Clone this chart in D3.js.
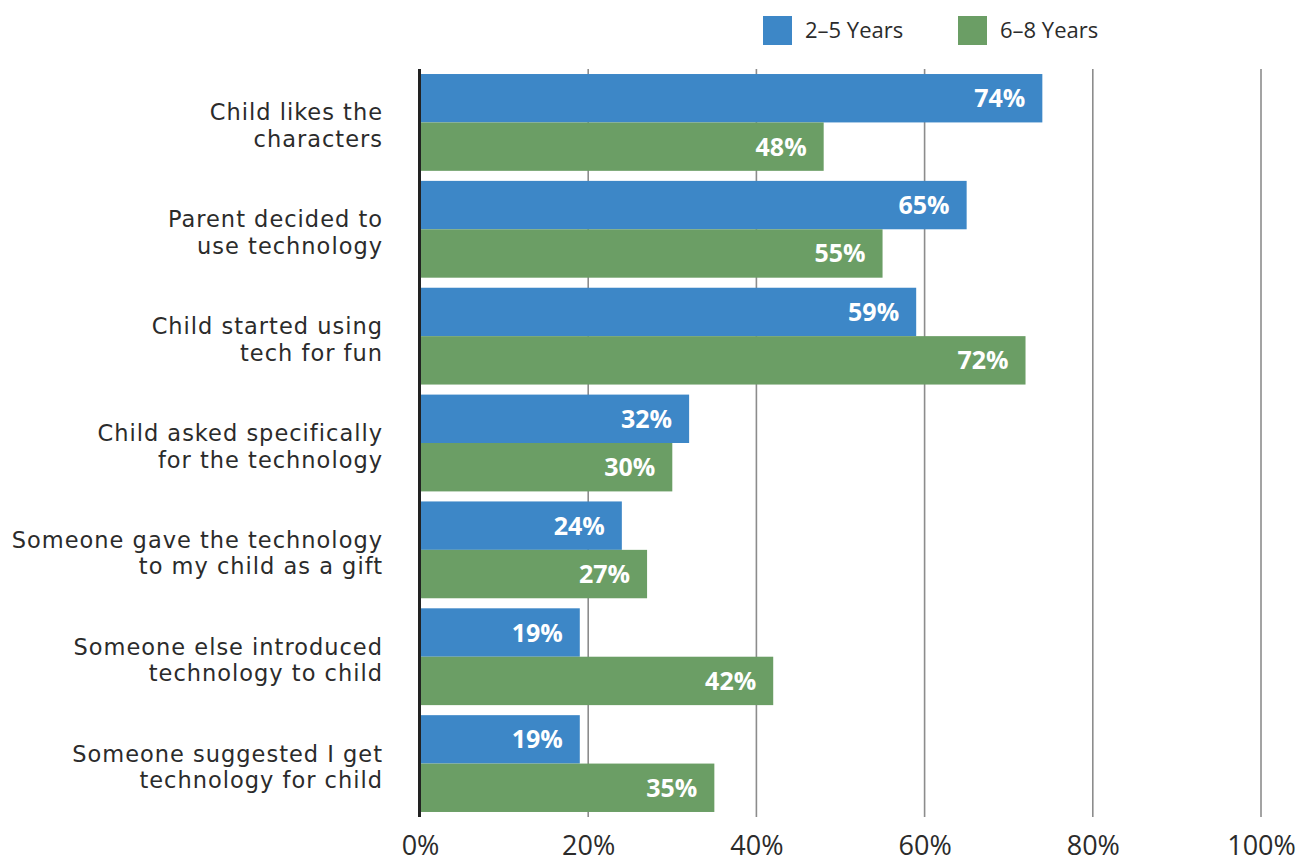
<!DOCTYPE html>
<html>
<head>
<meta charset="utf-8">
<script src="https://cdn.jsdelivr.net/npm/d3@7"></script>
<style>
  html, body { margin: 0; padding: 0; background: #fff; }
  svg { display: block; }
</style>
</head>
<body>
<svg id="chart" width="1309" height="863"></svg>
<script>
// Reasons children started using technology, by age group
const categories = [
  ["Child likes the", "characters"],
  ["Parent decided to", "use technology"],
  ["Child started using", "tech for fun"],
  ["Child asked specifically", "for the technology"],
  ["Someone gave the technology", "to my child as a gift"],
  ["Someone else introduced", "technology to child"],
  ["Someone suggested I get", "technology for child"]
];
const seriesNames = ["2–5 Years", "6–8 Years"];
const young = [74, 65, 59, 32, 24, 19, 19];
const older = [48, 55, 72, 30, 27, 42, 35];
const tickValues = [0, 20, 40, 60, 80, 100];
const colors = ["#3d87c7", "#6b9e65"];

const FONT = "'Open Sans', 'DejaVu Sans', sans-serif";
const LABEL_FONT = "'DejaVu Sans', sans-serif";
const svg = d3.select("#chart");

const x = d3.scaleLinear().domain([0, 100]).range([420, 1261]);
const y = d3.scaleBand()
  .domain(d3.range(categories.length))
  .range([69, 817])
  .paddingInner(0.094)
  .paddingOuter(0.047);
const sub = d3.scaleBand().domain([0, 1]).range([0, y.bandwidth()]);

// vertical gridlines
svg.append("g")
  .selectAll("line")
  .data(tickValues.filter(d => d > 0))
  .join("line")
  .attr("x1", d => x(d)).attr("x2", d => x(d))
  .attr("y1", 69).attr("y2", 817)
  .attr("stroke", "#8c8c8c")
  .attr("stroke-width", 1.6);

// bars
const series = [young, older];
const groups = svg.append("g")
  .selectAll("g")
  .data(categories)
  .join("g")
  .attr("transform", (d, i) => `translate(0,${y(i)})`);

series.forEach((vals, s) => {
  groups.append("rect")
    .attr("x", x(0) + 1)
    .attr("y", sub(s))
    .attr("width", (d, i) => x(vals[i]) - x(0) - 1)
    .attr("height", sub.bandwidth())
    .attr("fill", colors[s]);

  groups.append("text")
    .attr("x", (d, i) => x(vals[i]) - 17)
    .attr("y", sub(s) + sub.bandwidth() / 2)
    .attr("dy", "0.36em")
    .attr("text-anchor", "end")
    .attr("fill", "#fff")
    .attr("font-family", FONT)
    .attr("font-weight", 700)
    .attr("font-size", 25)
    .text((d, i) => vals[i] + "%");
});

// category labels, two lines each
const labels = svg.append("g")
  .selectAll("text")
  .data(categories)
  .join("text")
  .attr("text-anchor", "end")
  .attr("font-family", LABEL_FONT)
  .attr("font-size", 22.5)
  .attr("letter-spacing", 1)
  .attr("fill", "#2b2b2b")
  .attr("transform", (d, i) => `translate(383,${y(i) + y.bandwidth() / 2})`);
labels.selectAll("tspan")
  .data(d => d)
  .join("tspan")
  .attr("x", 0)
  .attr("y", (d, j) => j === 0 ? -2 : 24.5)
  .text(d => d);

// y axis line
svg.append("line")
  .attr("x1", 419.5).attr("x2", 419.5)
  .attr("y1", 69).attr("y2", 817)
  .attr("stroke", "#222")
  .attr("stroke-width", 3);

// x axis tick labels
const xAxis = d3.axisBottom(x)
  .tickValues(tickValues)
  .tickFormat(d => d + "%")
  .tickSize(0)
  .tickPadding(0);
const ax = svg.append("g")
  .attr("transform", "translate(0,836)")
  .call(xAxis);
ax.select(".domain").remove();
ax.selectAll("text")
  .attr("font-family", FONT)
  .attr("font-size", 27)
  .attr("fill", "#2b2b2b")
  .attr("dy", "0.72em");

// legend
const legend = svg.append("g")
  .selectAll("g")
  .data(seriesNames)
  .join("g")
  .attr("transform", (d, i) => `translate(${[763, 958][i]},16)`);
legend.append("rect")
  .attr("width", 29).attr("height", 29)
  .attr("fill", (d, i) => colors[i]);
legend.append("text")
  .attr("x", 42).attr("y", 14.5)
  .attr("dy", "0.36em")
  .attr("font-family", FONT)
  .attr("font-size", 22)
  .attr("fill", "#2b2b2b")
  .text(d => d);
</script>
</body>
</html>
